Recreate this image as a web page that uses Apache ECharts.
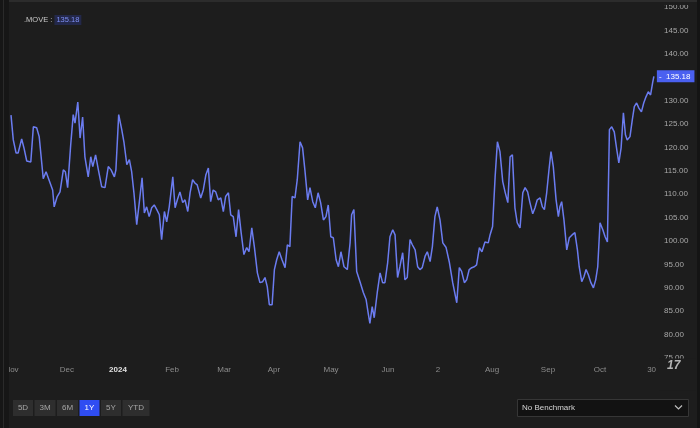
<!DOCTYPE html>
<html>
<head>
<meta charset="utf-8">
<script src="https://cdn.jsdelivr.net/npm/echarts@6/dist/echarts.min.js"></script>
<style>
html,body{margin:0;padding:0;background:#1d1d1d;}
#chart{width:700px;height:428px;}
</style>
</head>
<body>
<div id="chart"></div>
<script>
// Trading-day position of each reading (day 0 = 31 Oct 2023)
const tradingDay = [
0.0,0.9,2.0,2.8,4.2,5.1,6.2,7.8,8.8,10.1,11.1,12.7,13.8,15.4,16.4,17.0,18.2,19.3,20.6,21.4,
22.3,23.5,24.5,25.2,26.3,27.2,28.2,29.1,30.4,31.4,32.2,33.3,34.4,35.7,37.0,38.3,39.4,40.7,41.3,42.4,
43.6,44.5,45.6,46.6,47.5,48.4,49.5,50.5,51.6,52.5,53.4,54.4,55.4,56.4,57.4,58.4,59.3,60.4,61.3,62.3,
63.7,64.6,65.5,66.5,67.6,68.5,69.6,70.5,71.5,72.4,73.3,74.7,75.7,76.7,77.7,78.6,79.6,80.6,81.6,82.6,
83.6,84.5,85.6,86.5,87.5,88.6,89.6,90.6,91.7,92.8,93.7,94.8,95.8,97.0,98.0,99.1,100.0,100.9,101.7,102.8,
103.7,104.6,105.6,106.7,107.9,108.8,109.8,110.7,111.8,112.7,113.8,114.8,115.7,116.8,117.7,118.8,119.8,120.9,121.9,123.0,
124.0,124.9,125.9,126.9,128.0,128.9,129.9,131.1,132.4,133.5,134.1,135.0,136.1,137.4,138.7,139.8,140.7,141.3,142.2,143.0,
144.2,145.3,146.3,147.2,148.3,149.2,150.3,151.2,152.2,153.1,154.2,155.1,156.0,157.1,158.0,159.1,160.1,161.0,161.9,163.0,
163.9,165.0,165.9,166.9,167.8,168.9,170.0,171.3,172.6,173.9,175.5,176.5,177.4,178.5,179.4,180.4,181.4,182.4,183.3,184.4,
185.4,186.6,187.9,188.6,189.6,190.6,191.5,192.5,193.6,194.5,195.6,196.5,197.4,198.4,199.3,200.4,201.5,202.4,203.4,204.3,
205.4,206.3,207.2,208.3,209.2,210.0,210.9,211.8,212.6,213.5,214.6,215.5,216.1,216.8,217.7,218.8,219.8,220.9,222.0,223.0,
223.7,224.7,225.6,226.4,227.3,228.3,229.3,230.2,231.0,231.9,233.0,233.9,234.8,235.6,236.5,237.5,238.5,239.3,240.2,241.1,
241.9,242.6,243.7,244.6,245.4,246.3,247.2,248.2,249.1,250.0,250.9,251.8,252.6,253.1
];
// .MOVE index values
const moveValues = [
126.9,121.6,118.8,118.8,121.8,119.9,117.1,116.9,124.4,124.2,122.3,113.3,114.8,112.4,110.9,107.3,109.5,110.5,115.2,114.8,
111.4,120.5,127.0,125.2,129.7,122.0,126.5,118.0,113.7,118.0,115.9,118.4,115.2,111.6,111.4,115.9,115.2,113.7,115.2,127.0,
123.8,121.0,116.3,117.4,114.8,110.3,103.5,108.2,113.5,106.0,107.3,105.2,107.1,107.7,106.7,105.6,100.3,106.3,104.1,107.3,
113.7,107.1,108.8,110.5,108.2,108.8,106.3,110.3,113.1,112.4,112.0,109.2,110.9,114.1,115.6,108.4,110.9,110.5,108.8,109.2,
106.3,109.5,110.3,105.6,105.2,100.9,106.7,101.8,97.1,98.6,97.7,102.8,98.8,93.2,91.1,91.3,92.2,90.2,86.4,86.4,
93.9,96.0,97.7,96.0,94.3,99.2,98.8,109.5,109.2,113.1,121.2,119.9,115.2,108.8,111.4,108.4,107.1,110.3,108.2,104.5,
105.2,107.7,100.9,100.7,96.0,94.5,97.7,94.5,93.9,99.6,105.6,106.7,93.5,91.3,89.0,87.5,84.3,82.4,86.0,83.6,
89.0,93.2,91.1,91.1,95.4,100.9,102.4,101.3,92.2,94.5,97.5,91.7,92.2,100.3,99.2,98.1,94.5,93.9,94.3,96.7,
97.7,95.6,98.8,105.2,107.3,104.5,99.6,98.6,95.4,91.1,86.8,94.3,93.5,91.1,91.7,93.9,94.3,94.5,94.9,98.6,
97.7,99.8,99.6,101.3,103.1,113.7,121.2,119.1,112.7,110.5,108.2,118.0,118.4,107.1,103.9,102.8,110.3,111.4,110.5,108.2,
105.8,107.1,108.8,109.2,107.3,106.7,110.3,115.2,119.1,115.9,108.8,105.2,107.3,108.4,104.5,98.1,100.7,101.3,101.8,98.1,
94.5,91.3,92.4,93.9,92.8,91.1,90.0,91.7,94.5,103.9,102.4,100.9,99.8,123.8,124.4,123.3,119.5,116.7,119.9,127.4,
122.7,121.6,122.3,125.9,128.7,129.5,128.4,127.6,129.5,130.8,131.9,131.2,133.8,135.18
];
const tickDays   = [0.2, 22.0, 42.1, 63.4, 83.9, 103.5, 126.0, 148.4, 168.1, 189.4, 211.4, 231.9, 252.2];
const tickLabels = ['Nov','Dec','2024','Feb','Mar','Apr','May','Jun','2','Aug','Sep','Oct','30'];
const rangeButtons = ['5D','3M','6M','1Y','5Y','YTD'];
const activeRange = '1Y';
const seriesName = '.MOVE';
const benchmarkText = 'No Benchmark';

const FONT = '"Liberation Sans", Arial, sans-serif';
const lastVal = moveValues[moveValues.length - 1];
const chart = echarts.init(document.getElementById('chart'));

// bottom controls layout
const btnWidths = [20, 21, 21, 20, 20, 27];
const btnGraphics = [];
let bx = 13;
rangeButtons.forEach((b, i) => {
  const active = b === activeRange;
  btnGraphics.push({
    type: 'rect', left: bx, top: 400,
    shape: { width: btnWidths[i], height: 16 },
    style: { fill: active ? '#2f4df2' : '#2e2e2e' }
  });
  btnGraphics.push({
    type: 'text', x: bx + btnWidths[i] / 2, y: 408,
    style: { text: b, fill: active ? '#ffffff' : '#a6a6a6', font: '8px ' + FONT, align: 'center', verticalAlign: 'middle' }
  });
  bx += btnWidths[i] + 1.5;
});

chart.setOption({
  animation: false,
  backgroundColor: '#1d1d1d',
  grid: { left: 0, right: 43, top: 7, bottom: 70 },
  xAxis: {
    type: 'value',
    min: -4.33, max: 254.33,
    axisLine: { show: false }, axisTick: { show: false }, splitLine: { show: false },
    axisLabel: {
      customValues: tickDays,
      hideOverlap: false,
      margin: 8,
      color: '#8c8c8c', fontSize: 8, fontFamily: FONT,
      formatter: v => {
        let idx = 0, best = 1e9;
        tickDays.forEach((d, i) => { if (Math.abs(d - v) < best) { best = Math.abs(d - v); idx = i; } });
        const t = tickLabels[idx];
        return /^\d{4}$/.test(t) ? '{y|' + t + '}' : t;
      },
      rich: { y: { color: '#e0e0e0', fontWeight: 'bold', fontSize: 8, fontFamily: FONT } }
    }
  },
  yAxis: {
    type: 'value', position: 'right',
    min: 75, max: 150, interval: 5,
    axisLine: { show: false }, axisTick: { show: false }, splitLine: { show: false },
    axisLabel: { color: '#a8a8a8', fontSize: 8, fontFamily: FONT, margin: 7, formatter: v => v.toFixed(2) }
  },
  series: [{
    name: seriesName,
    type: 'line',
    data: tradingDay.map((d, i) => [d, moveValues[i]]),
    showSymbol: false,
    lineStyle: { color: '#6b7cf0', width: 1.5 },
    clip: false,
    endLabel: {
      show: true,
      distance: 3,
      formatter: () => '-  ' + lastVal.toFixed(2),
      color: '#ffffff', fontSize: 8, fontFamily: FONT,
      backgroundColor: '#4a60f0', padding: [2, 4, 2, 2]
    }
  }],
  graphic: [
    { type: 'rect', left: 0, top: 0, shape: { width: 700, height: 2 }, style: { fill: '#2c2c2c' }, z: 100 },
    { type: 'rect', left: 659, top: 2, shape: { width: 38, height: 3 }, style: { fill: '#1d1d1d' }, z: 100 },
    { type: 'rect', left: 0, top: 0, shape: { width: 9, height: 428 }, style: { fill: '#161616' }, z: 100 },
    { type: 'rect', left: 3, top: 0, shape: { width: 1, height: 428 }, style: { fill: '#2a2a2a' }, z: 101 },
    { type: 'rect', left: 697, top: 0, shape: { width: 3, height: 428 }, style: { fill: '#141414' }, z: 100 },
    { type: 'rect', left: 659, top: 358.5, shape: { width: 37, height: 32 }, style: { fill: '#1d1d1d' }, z: 100 },
    { type: 'text', x: 667, y: 366, style: { text: '17', fill: '#b5b5b5', font: 'italic bold 12px ' + FONT, verticalAlign: 'middle' }, z: 101 },
    {
      type: 'text', x: 24, y: 20, z: 100,
      style: {
        text: '{a|' + seriesName + ' : }{b|' + lastVal.toFixed(2) + '}',
        verticalAlign: 'middle',
        rich: {
          a: { fill: '#c8c8c8', font: '7.5px ' + FONT },
          b: { fill: '#7f8ff5', font: '7.5px ' + FONT, backgroundColor: '#23284a', padding: [1, 2] }
        }
      }
    },
    ...btnGraphics.map(g => Object.assign(g, { z: 100 })),
    { type: 'rect', left: 517, top: 399, shape: { width: 171, height: 17 }, style: { fill: '#121212', stroke: '#363636', lineWidth: 1 }, z: 100 },
    { type: 'text', x: 522, y: 408, style: { text: benchmarkText, fill: '#d4d4d4', font: '8px ' + FONT, verticalAlign: 'middle' }, z: 101 },
    { type: 'polyline', shape: { points: [[675, 405.5], [678.5, 409], [682, 405.5]] }, style: { stroke: '#bdbdbd', lineWidth: 1.2, fill: null }, z: 101 }
  ]
});
</script>
</body>
</html>
